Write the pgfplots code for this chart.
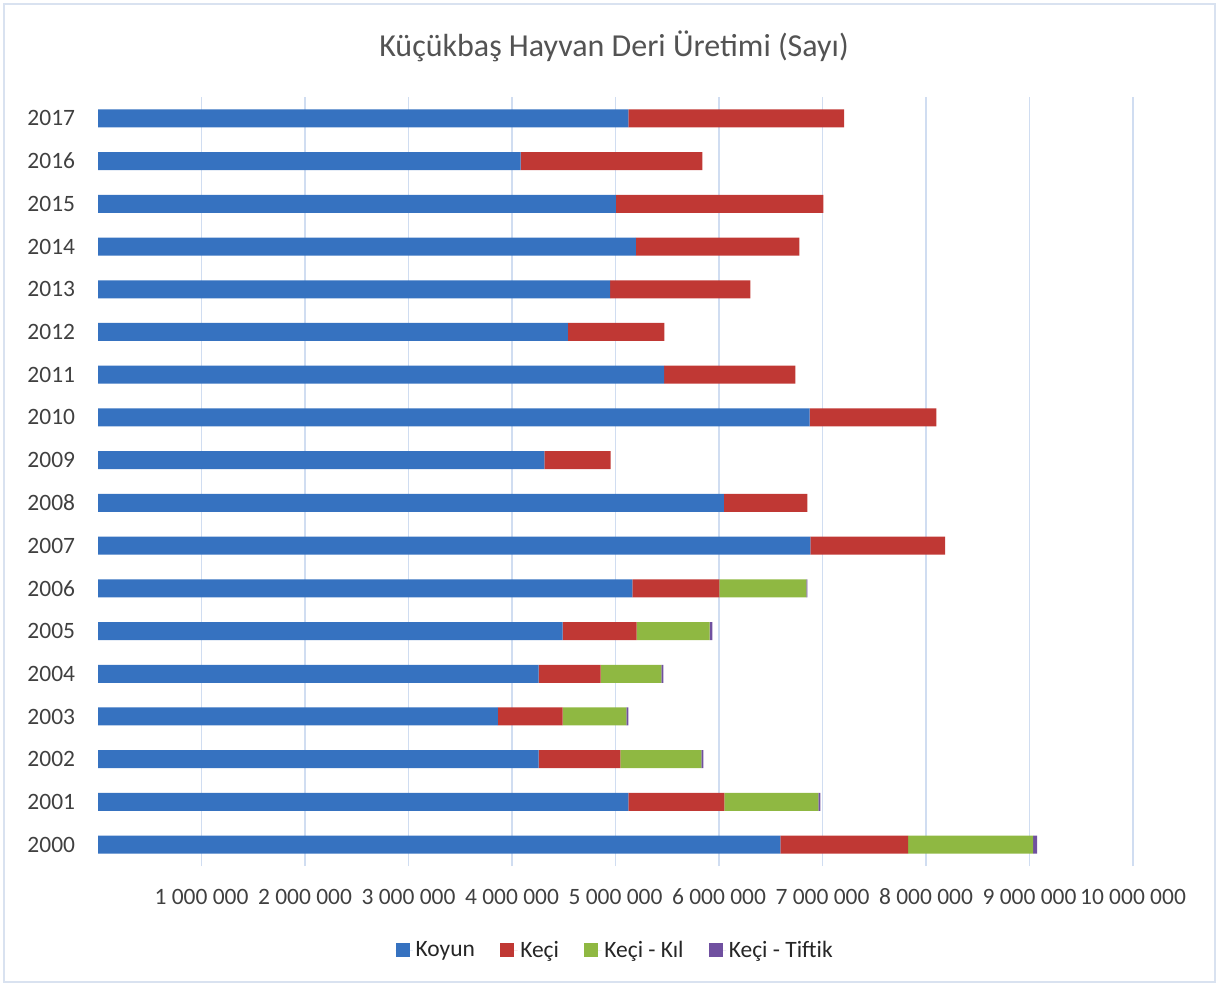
\documentclass[border=0pt]{standalone}
\usepackage{pgfplots}
\pgfplotsset{compat=1.18}
\usepackage{fontspec}
\setmainfont{Carlito}
\definecolor{cblue}{RGB}{54,114,192}
\definecolor{cred}{RGB}{192,56,52}
\definecolor{cgreen}{RGB}{143,184,66}
\definecolor{cpurple}{RGB}{112,80,160}
\definecolor{cgrid}{RGB}{208,221,241}
\definecolor{ctext}{RGB}{64,64,64}
\definecolor{cframe}{RGB}{217,226,240}
\begin{document}
\begin{tikzpicture}
\begin{scope}[x=0.75pt,y=0.75pt]
\useasboundingbox (0,0) rectangle (1219,-986);
\draw[cframe, line width=1.2pt] (4,-4) rectangle (1215,-982);
\node[text=ctext!90!white, font=\fontsize{24}{28}\selectfont] at (614,-46) {Küçükbaş Hayvan Deri Üretimi (Sayı)};
\end{scope}
\begin{axis}[
  at={(73.5pt,-649.5pt)}, anchor=south west,
  scale only axis,
  width=776.25pt, height=576.75pt,
  xbar stacked,
  bar width=13.5pt,
  xmin=0, xmax=10000000,
  ymin=-0.5, ymax=17.5,
  ytick={0,...,17},
  yticklabels={2000,2001,2002,2003,2004,2005,2006,2007,2008,2009,2010,2011,2012,2013,2014,2015,2016,2017},
  xtick={1000000,2000000,3000000,4000000,5000000,6000000,7000000,8000000,9000000,10000000},
  xticklabels={1 000 000,2 000 000,3 000 000,4 000 000,5 000 000,6 000 000,7 000 000,8 000 000,9 000 000,10 000 000},
  scaled x ticks=false,
  xmajorgrids,
  grid style={cgrid, line width=1.4pt},
  axis line style={draw=none},
  tick style={draw=none},
  ticklabel style={text=ctext, font=\fontsize{17.6}{20}\selectfont},
  yticklabel style={inner sep=0pt, xshift=-17pt},
  xticklabel style={inner sep=0pt, yshift=-17pt},
  legend columns=4,
  legend style={draw=none, at={(0.5,0)}, anchor=center, yshift=-63pt,
    font=\fontsize{17.6}{20}\selectfont, text=black!85,
    /tikz/every even column/.append style={column sep=17pt}},
  legend image code/.code={\path[#1] (0pt,-5pt) rectangle (10.5pt,5.5pt); \path (0pt,0pt) -- (13pt,0pt);},
]
\addplot[fill=cblue, draw=none] coordinates {
(6593000,0) (5125000,1) (4257000,2) (3864000,3) (4257000,4) (4488000,5) (5164000,6) (6882000,7) (6046000,8)
(4312000,9) (6876000,10) (5470000,11) (4540000,12) (4949000,13) (5196000,14) (5003000,15) (4083000,16) (5125000,17)};
\addplot[fill=cred, draw=none] coordinates {
(1235000,0) (927000,1) (791000,2) (624000,3) (598000,4) (715000,5) (840000,6) (1303000,7) (807000,8)
(640000,9) (1223000,10) (1267000,11) (933000,12) (1354000,13) (1580000,14) (2005000,15) (1757000,16) (2085000,17)};
\addplot[fill=cgreen, draw=none] coordinates {
(1207000,0) (907000,1) (782000,2) (618000,3) (589000,4) (707000,5) (840000,6) (0,7) (0,8)
(0,9) (0,10) (0,11) (0,12) (0,13) (0,14) (0,15) (0,16) (0,17)};
\addplot[fill=cpurple, draw=none] coordinates {
(38000,0) (20000,1) (20000,2) (19000,3) (19000,4) (26000,5) (10000,6) (0,7) (0,8)
(0,9) (0,10) (0,11) (0,12) (0,13) (0,14) (0,15) (0,16) (0,17)};
\legend{Koyun,Keçi,Keçi - Kıl,Keçi - Tiftik}
\end{axis}
\end{tikzpicture}
\end{document}
